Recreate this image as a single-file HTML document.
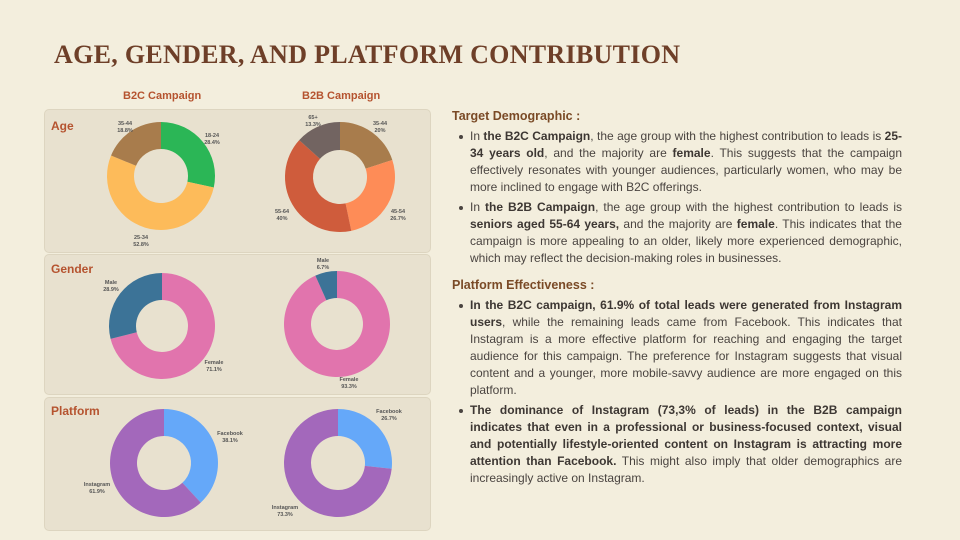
<!DOCTYPE html>
<html><head><meta charset="utf-8">
<style>
body{margin:0;width:960px;height:540px;background:#f3eedd;position:relative;overflow:hidden;font-family:"Liberation Sans",sans-serif}
.title{position:absolute;left:54px;top:40px;font-family:"Liberation Serif",serif;font-weight:bold;font-size:26px;color:#6e3f28;letter-spacing:0.3px;white-space:nowrap}
.ch{position:absolute;top:90px;font-size:11px;font-weight:bold;color:#b5532f}
.panel{position:absolute;left:44px;width:385px;background:#e8e1cf;border:1px solid #ddd5c0;border-radius:5px}
.pl{position:absolute;left:51px;font-size:12px;font-weight:bold;color:#b5532f}
.h{position:absolute;left:452px;font-size:12.5px;font-weight:bold;color:#7a4a26}
ul{position:absolute;left:452px;width:450px;margin:0;padding:0 0 0 18px;box-sizing:border-box;font-size:12px;line-height:17px;color:#4a4440;text-align:justify;list-style:none}
li{position:relative;margin-bottom:3px}
li:before{content:"";position:absolute;left:-11px;top:7px;width:4px;height:4px;border-radius:50%;background:#4a4440}
b{color:#3d3733}
svg{position:absolute;left:0;top:0}
</style></head><body>
<div class="title">AGE, GENDER, AND PLATFORM CONTRIBUTION</div>
<div class="ch" style="left:123px">B2C Campaign</div>
<div class="ch" style="left:302px">B2B Campaign</div>
<div class="panel" style="top:109px;height:142px"></div>
<div class="panel" style="top:254px;height:139px"></div>
<div class="panel" style="top:397px;height:132px"></div>
<div class="pl" style="top:119px">Age</div>
<div class="pl" style="top:262px">Gender</div>
<div class="pl" style="top:404px">Platform</div>
<svg id="s" width="960" height="540"></svg>
<div class="h" style="top:109px">Target Demographic :</div>
<ul style="top:128px">
<li>In <b>the B2C Campaign</b>, the age group with the highest contribution to leads is <b>25-34 years old</b>, and the majority are <b>female</b>. This suggests that the campaign effectively resonates with younger audiences, particularly women, who may be more inclined to engage with B2C offerings.</li>
<li>In <b>the B2B Campaign</b>, the age group with the highest contribution to leads is <b>seniors aged 55-64 years,</b> and the majority are <b>female</b>. This indicates that the campaign is more appealing to an older, likely more experienced demographic, which may reflect the decision-making roles in businesses.</li>
</ul>
<div class="h" style="top:278px">Platform Effectiveness :</div>
<ul style="top:297px">
<li><b>In the B2C campaign, 61.9% of total leads were generated from Instagram users</b>, while the remaining leads came from Facebook. This indicates that Instagram is a more effective platform for reaching and engaging the target audience for this campaign. The preference for Instagram suggests that visual content and a younger, more mobile-savvy audience are more engaged on this platform.</li>
<li><b>The dominance of Instagram (73,3% of leads) in the B2B campaign indicates that even in a professional or business-focused context, visual and potentially lifestyle-oriented content on Instagram is attracting more attention than Facebook.</b> This might also imply that older demographics are increasingly active on Instagram.</li>
</ul>
<script>
var s=document.getElementById('s'),out='';
function donut(cx,cy,R,r,data){var a=0;data.forEach(function(d){var a0=a,a1=a+d[0]/100*2*Math.PI;a=a1;
function p(rad,ang){return [cx+rad*Math.sin(ang),cy-rad*Math.cos(ang)];}
var L=(a1-a0)>Math.PI?1:0,A=p(R,a0),B=p(R,a1),C=p(r,a1),D=p(r,a0);
out+='<path d="M'+A+' A'+R+','+R+' 0 '+L+' 1 '+B+' L'+C+' A'+r+','+r+' 0 '+L+' 0 '+D+' Z" fill="'+d[1]+'"/>';});}
function lab(x,y,t1,t2){out+='<text x="'+x+'" y="'+y+'" font-size="5.5" font-weight="bold" fill="#555" text-anchor="middle" font-family="Liberation Sans">'+t1+'<tspan x="'+x+'" dy="7">'+t2+'</tspan></text>';}
donut(161,176,54,27,[[28.4,'#2bb656'],[52.8,'#fdbb5a'],[18.8,'#a87c4c']]);
donut(340,177,55,27,[[20,'#a87c4c'],[26.7,'#fe8c57'],[40,'#cf5c3c'],[13.3,'#726461']]);
donut(162,326,53,26,[[71.1,'#e174ad'],[28.9,'#3c7397']]);
donut(337,324,53,26,[[93.3,'#e174ad'],[6.7,'#3c7397']]);
donut(164,463,54,27,[[38.1,'#65a8f9'],[61.9,'#a368bb']]);
donut(338,463,54,27,[[26.7,'#65a8f9'],[73.3,'#a368bb']]);
lab(125,125,'35-44','18.8%');lab(212,137,'18-24','28.4%');lab(141,239,'25-34','52.8%');
lab(313,119,'65+','13.3%');lab(380,125,'35-44','20%');lab(282,213,'55-64','40%');lab(398,213,'45-54','26.7%');
lab(111,284,'Male','28.9%');lab(214,364,'Female','71.1%');lab(323,262,'Male','6.7%');lab(349,381,'Female','93.3%');
lab(230,435,'Facebook','38.1%');lab(97,486,'Instagram','61.9%');lab(389,413,'Facebook','26.7%');lab(285,509,'Instagram','73.3%');
s.innerHTML=out;
</script>
</body></html>
